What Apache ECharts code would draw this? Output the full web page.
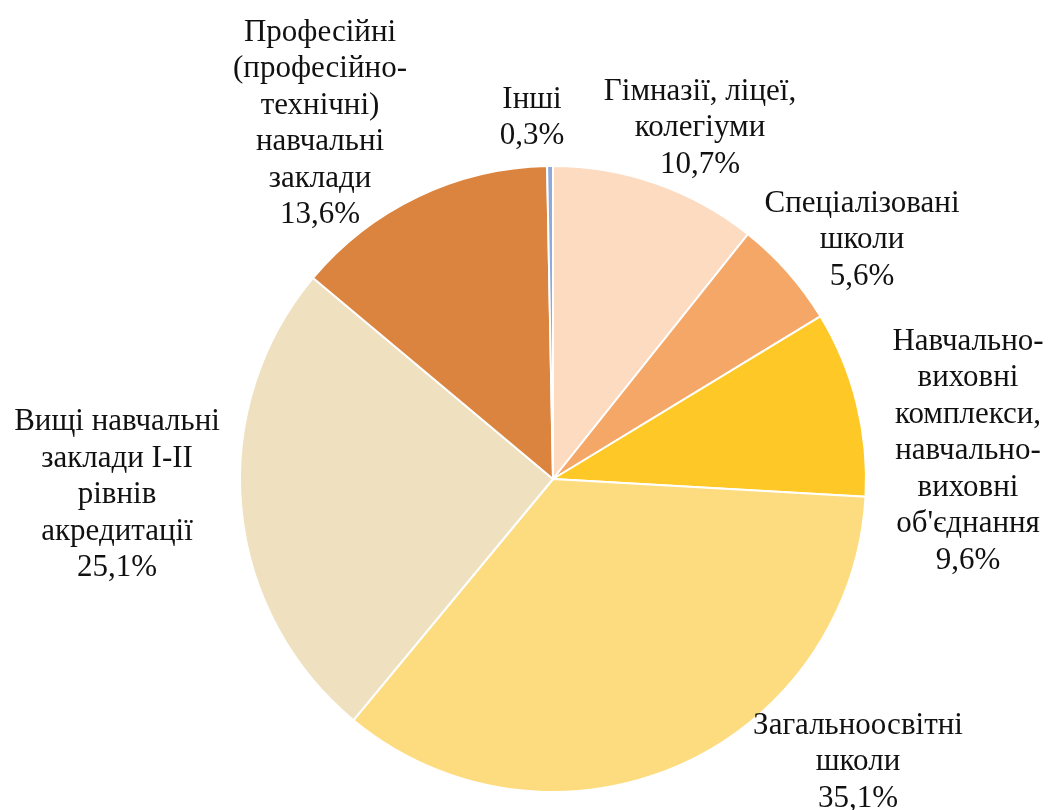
<!DOCTYPE html>
<html lang="uk">
<head>
    <meta charset="UTF-8">
    <title>Розподіл навчальних закладів</title>
    <script src="https://cdn.jsdelivr.net/npm/echarts@6/dist/echarts.min.js"></script>
    <style>
        body { margin: 0; padding: 0; background: #fff; }
        #chart { width: 1049px; height: 810px; }
    </style>
</head>
<body>
    <div id="chart"></div>
    <script>
        // категорії (за годинниковою стрілкою від 12 години)
        const names = [
            'Гімназії, ліцеї,\nколегіуми',
            'Спеціалізовані\nшколи',
            'Навчально-\nвиховні\nкомплекси,\nнавчально-\nвиховні\nоб\'єднання',
            'Загальноосвітні\nшколи',
            'Вищі навчальні\nзаклади І-ІІ\nрівнів\nакредитації',
            'Професійні\n(професійно-\nтехнічні)\nнавчальні\nзаклади',
            'Інші'
        ];
        const values = [10.7, 5.6, 9.6, 35.1, 25.1, 13.6, 0.3];
        const colors = ['#FCDBC0', '#F4A766', '#FEC926', '#FDDC7F', '#EFE1BF', '#DB843F', '#8EA9DB'];

        // центри підписів
        const labelPos = [
            [700, 128], [862, 240], [968, 451], [858, 762],
            [117, 495], [320, 124], [532, 118]
        ];

        const chart = echarts.init(document.getElementById('chart'));

        const data = names.map((n, i) => ({
            name: n,
            value: values[i],
            itemStyle: { color: colors[i] }
        }));

        chart.setOption({
            animation: false,
            backgroundColor: '#fff',
            series: [{
                type: 'pie',
                center: [553, 479],
                radius: 313,
                startAngle: 90,
                clockwise: true,
                data: data,
                itemStyle: { borderColor: '#fff', borderWidth: 2 },
                label: {
                    show: true,
                    position: 'outside',
                    formatter: p => p.name + '\n' + p.value.toFixed(1).replace('.', ',') + '%',
                    fontFamily: 'Liberation Serif',
                    fontSize: 31,
                    lineHeight: 36.5,
                    color: '#111',
                    align: 'center',
                    overflow: 'none',
                    width: 300
                },
                labelLine: { show: false },
                labelLayout: params => ({
                    x: labelPos[params.dataIndex][0],
                    y: labelPos[params.dataIndex][1],
                    align: 'center',
                    verticalAlign: 'middle'
                }),
                emphasis: { disabled: true }
            }]
        });
    </script>
</body>
</html>
